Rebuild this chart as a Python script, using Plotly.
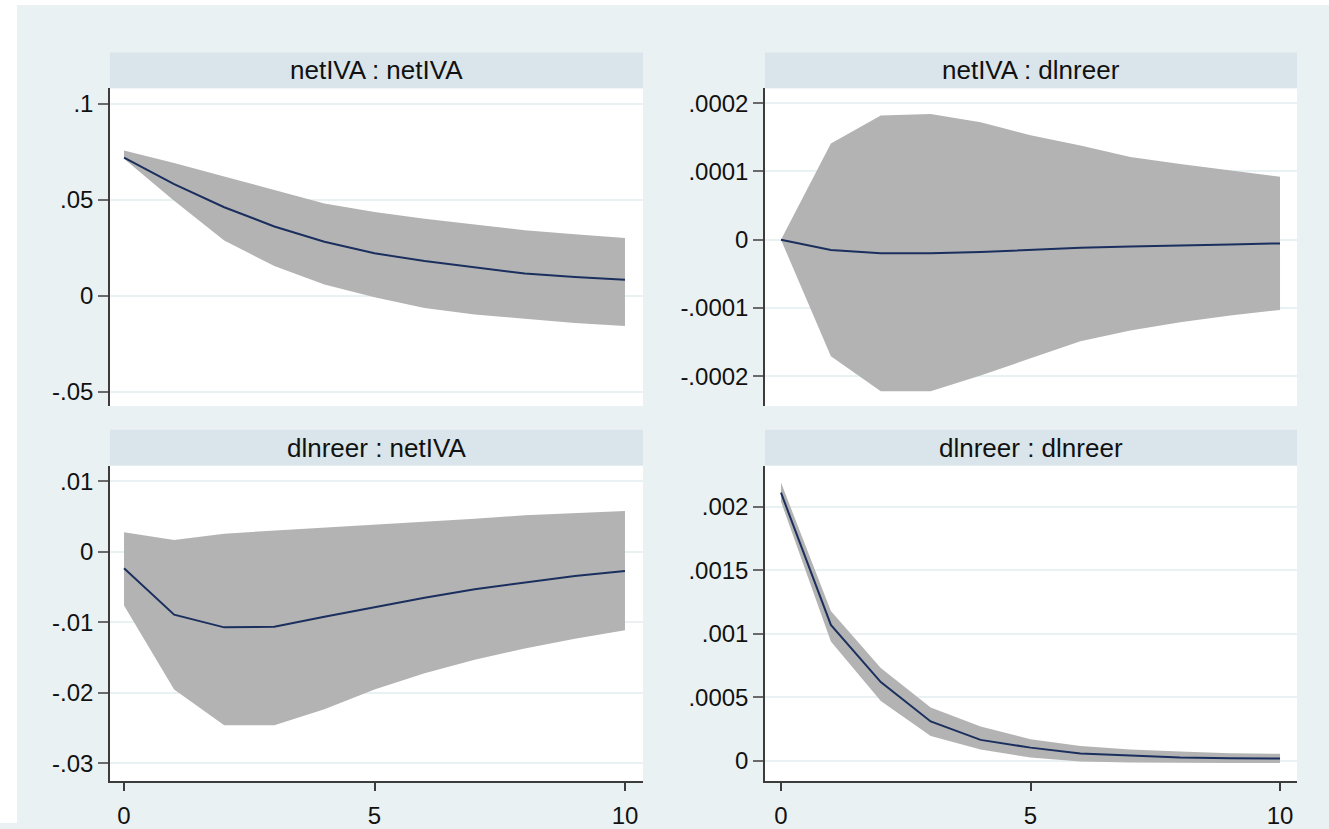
import plotly.graph_objects as go

W, H = 1329, 829

steps = [0, 1, 2, 3, 4, 5, 6, 7, 8, 9, 10]

# netIVA : netIVA
irf_tl = [0.0718, 0.058, 0.046, 0.036, 0.028, 0.022, 0.018, 0.0147, 0.0115, 0.0097, 0.0083]
hi_tl = [0.0755, 0.069, 0.062, 0.055, 0.048, 0.0435, 0.040, 0.037, 0.034, 0.032, 0.030]
lo_tl = [0.0712, 0.0494, 0.0287, 0.0154, 0.0058, -0.0008, -0.0064, -0.0098, -0.0120, -0.0142, -0.0158]

# netIVA : dlnreer
irf_tr = [0.0, -1.5e-5, -2.0e-5, -2.0e-5, -1.8e-5, -1.45e-5, -1.2e-5, -1.0e-5, -8e-6, -7e-6, -5.5e-6]
hi_tr = [0.0, 1.41e-4, 1.82e-4, 1.84e-4, 1.72e-4, 1.53e-4, 1.38e-4, 1.21e-4, 1.11e-4, 1.01e-4, 0.92e-4]
lo_tr = [0.0, -1.71e-4, -2.22e-4, -2.22e-4, -1.99e-4, -1.74e-4, -1.49e-4, -1.33e-4, -1.21e-4, -1.11e-4, -1.03e-4]

# dlnreer : netIVA
irf_bl = [-0.0023, -0.0089, -0.0107, -0.0106, -0.0092, -0.0078, -0.0065, -0.0053, -0.0044, -0.0034, -0.0027]
hi_bl = [0.0028, 0.0017, 0.0026, 0.0030, 0.0034, 0.0039, 0.0043, 0.0047, 0.0052, 0.0055, 0.0058]
lo_bl = [-0.0076, -0.0195, -0.0246, -0.0246, -0.0223, -0.0195, -0.0172, -0.0153, -0.0137, -0.0123, -0.0111]

# dlnreer : dlnreer
irf_br = [0.00211, 0.00107, 0.00062, 0.00031, 0.000165, 0.000104, 0.000057, 0.000039, 0.000026, 0.00002, 0.000018]
hi_br = [0.00219, 0.00118, 0.00073, 0.00042, 0.00027, 0.00017, 0.000117, 0.00009, 0.000073, 0.00006, 0.000055]
lo_br = [0.00204, 0.00094, 0.00047, 0.000195, 0.00009, 0.000026, -0.000005, -0.000013, -0.000016, -0.000016, -0.000016]

titles = ["netIVA : netIVA", "netIVA : dlnreer", "dlnreer : netIVA", "dlnreer : dlnreer"]

ytick_tl = [0.1, 0.05, 0.0, -0.05]
ylab_tl = [".1", ".05", "0", "-.05"]
ytick_tr = [0.0002, 0.0001, 0.0, -0.0001, -0.0002]
ylab_tr = [".0002", ".0001", "0", "-.0001", "-.0002"]
ytick_bl = [0.01, 0.0, -0.01, -0.02, -0.03]
ylab_bl = [".01", "0", "-.01", "-.02", "-.03"]
ytick_br = [0.002, 0.0015, 0.001, 0.0005, 0.0]
ylab_br = [".002", ".0015", ".001", ".0005", "0"]
xticks = [0, 5, 10]
xlabels = ["0", "5", "10"]

BG = "#EAF1F3"
STRIP = "#D9E5EA"
GRID = "#EAF1F3"
BAND = "#B3B3B3"
LINE = "#1B2F5E"
AXIS = "#3C3C3C"
FONT = "Liberation Sans, Arial, sans-serif"
TICK_SIZE = 24
TITLE_SIZE = 26

# pixel layout of panels: (x0, x1, ytop, ybottom)
panels = [
    (110, 643, 89, 409),
    (765, 1297, 89, 409),
    (110, 643, 469, 787),
    (765, 1297, 469, 787),
]
yranges = [
    [-0.0575, 0.1079],
    [-0.0002438, 0.0002217],
    [-0.03254, 0.01225],
    [-0.000161, 0.002323],
]
xranges = [[-0.28, 10.36], [-0.32, 10.34], [-0.28, 10.36], [-0.32, 10.34]]

data = [
    (irf_tl, hi_tl, lo_tl, ytick_tl, ylab_tl),
    (irf_tr, hi_tr, lo_tr, ytick_tr, ylab_tr),
    (irf_bl, hi_bl, lo_bl, ytick_bl, ylab_bl),
    (irf_br, hi_br, lo_br, ytick_br, ylab_br),
]

fig = go.Figure()
layout = dict(
    width=W, height=H,
    margin=dict(l=0, r=0, t=0, b=0),
    paper_bgcolor=BG, plot_bgcolor="white",
    showlegend=False,
    font=dict(family=FONT, color="#111111", size=TICK_SIZE),
)
shapes = [
    dict(type="rect", xref="paper", yref="paper", x0=0, x1=1, y0=1 - 5 / H, y1=1,
         fillcolor="white", line=dict(width=0), layer="below"),
    dict(type="rect", xref="paper", yref="paper", x0=0, x1=17 / W, y0=0, y1=1,
         fillcolor="white", line=dict(width=0), layer="below"),
]
annotations = []

for i, ((irf, hi, lo, yt, yl), (px0, px1, pyt, pyb)) in enumerate(zip(data, panels)):
    n = i + 1
    xa = "x" if n == 1 else f"x{n}"
    ya = "y" if n == 1 else f"y{n}"
    fig.add_trace(go.Scatter(
        x=steps + steps[::-1], y=hi + lo[::-1], xaxis=xa, yaxis=ya,
        fill="toself", fillcolor=BAND, line=dict(width=0), mode="lines",
        hoverinfo="skip"))
    fig.add_trace(go.Scatter(
        x=steps, y=irf, xaxis=xa, yaxis=ya, mode="lines",
        line=dict(color=LINE, width=2)))
    bottom = i >= 2
    xkey = "xaxis" if n == 1 else f"xaxis{n}"
    ykey = "yaxis" if n == 1 else f"yaxis{n}"
    layout[xkey] = dict(
        domain=[px0 / W, px1 / W], anchor=ya, range=xranges[i],
        showgrid=False, zeroline=False,
        showline=bottom, linecolor=AXIS, linewidth=1.5,
        ticks="outside" if bottom else "", ticklen=8, tickwidth=1.5, tickcolor=AXIS,
        tickvals=xticks, ticktext=xlabels, showticklabels=bottom,
        ticklabelstandoff=4,
        tickfont=dict(size=TICK_SIZE, family=FONT, color="#111111"),
    )
    layout[ykey] = dict(
        domain=[1 - pyb / H, 1 - pyt / H], anchor=xa, range=yranges[i],
        showgrid=True, gridcolor=GRID, gridwidth=1.5, zeroline=False,
        showline=True, linecolor=AXIS, linewidth=1.5,
        ticks="outside", ticklen=10, tickwidth=1.5, tickcolor="#6A6A6A",
        tickvals=yt, ticktext=yl,
        tickfont=dict(size=TICK_SIZE, family=FONT, color="#111111"),
    )
    # strip header
    shapes.append(dict(type="rect", xref="paper", yref="paper",
                       x0=px0 / W, x1=px1 / W, y0=1 - pyt / H, y1=1 - (pyt - 36) / H,
                       fillcolor=STRIP, line=dict(width=0), layer="below"))
    annotations.append(dict(xref="paper", yref="paper", x=(px0 + px1) / 2 / W,
                            y=1 - (pyt - 18) / H, text=titles[i], showarrow=False,
                            xanchor="center", yanchor="middle",
                            font=dict(size=TITLE_SIZE, family=FONT, color="#111111")))

layout["shapes"] = shapes
layout["annotations"] = annotations
fig.update_layout(**layout)
fig.write_html("out.html")
